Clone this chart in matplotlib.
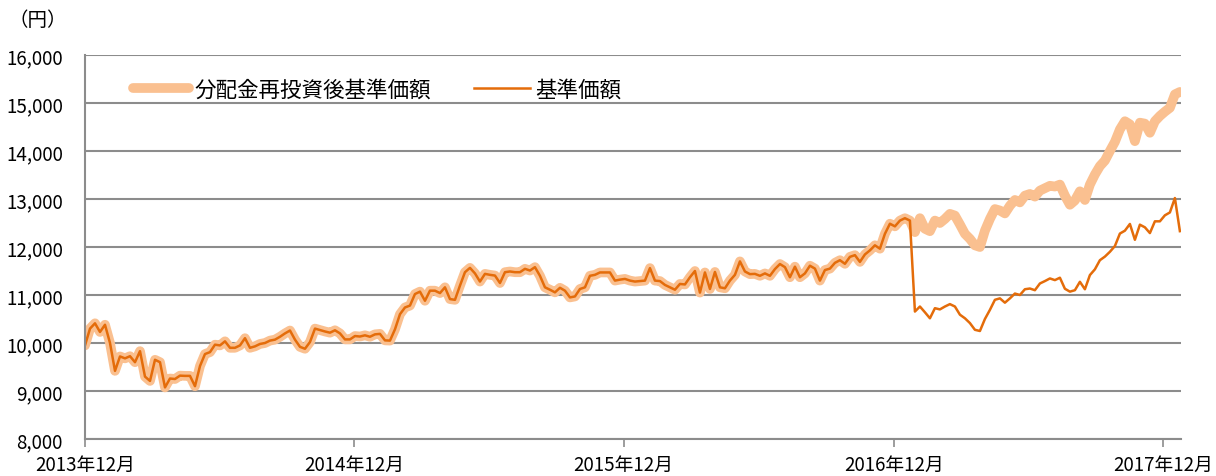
import matplotlib
matplotlib.use("Agg")
import matplotlib.pyplot as plt
import numpy as np
import pandas as pd
from matplotlib.ticker import FuncFormatter

plt.rcParams["font.family"] = ["Noto Sans CJK JP", "DejaVu Sans"]

# values, roughly one point per week
START = "2013-12-01"
END = "2017-12-24"

# both series are identical up to the January 2017 distribution
nav_before = [
    9950, 10300, 10410, 10230, 10380, 10000, 9420, 9720, 9680, 9725,
    9600, 9830, 9300, 9210, 9650, 9600, 9075, 9260, 9250, 9320,
    9315, 9315, 9100, 9520, 9770, 9810, 9965, 9950, 10035, 9900,
    9900, 9950, 10100, 9900, 9930, 9980, 10000, 10050, 10070, 10130,
    10200, 10260, 10070, 9920, 9880, 10020, 10300, 10270, 10240, 10215,
    10265, 10200, 10075, 10075, 10145, 10135, 10160, 10130, 10180, 10190,
    10055, 10050, 10285, 10600, 10740, 10780, 11020, 11070, 10880, 11090,
    11090, 11040, 11160, 10915, 10900, 11195, 11475, 11565, 11450, 11280,
    11440, 11420, 11405, 11250, 11475, 11490, 11475, 11475, 11545, 11510,
    11580, 11400, 11160, 11110, 11055, 11150, 11090, 10950, 10970, 11125,
    11160, 11400, 11420, 11470, 11470, 11470, 11300, 11320, 11335, 11300,
    11280, 11290, 11300, 11560, 11300, 11290, 11210, 11160, 11110, 11230,
    11220, 11370, 11500, 11050, 11470, 11125, 11480, 11160, 11140, 11300,
    11420, 11700, 11490, 11435, 11440, 11400, 11450, 11400, 11540, 11645,
    11580, 11370, 11590, 11370, 11450, 11610, 11550, 11300, 11520, 11550,
    11670, 11725, 11650, 11795, 11830, 11690, 11845, 11930, 12035, 11965,
    12275, 12485, 12430, 12550, 12600, 12550,
]

nav_after = [
    10655, 10760, 10640, 10515, 10725, 10700, 10760, 10810, 10760, 10590,
    10515, 10415, 10275, 10250, 10500, 10690, 10900, 10930, 10840, 10930,
    11030, 11000, 11120, 11135, 11100, 11240, 11290, 11345, 11310, 11360,
    11130, 11070, 11100, 11275, 11120, 11415, 11535, 11725, 11800, 11900,
    12020, 12280, 12340, 12480, 12150, 12465, 12410, 12290, 12535, 12535,
    12660, 12720, 13020, 12330,
]

reinvest_after = [
    12310, 12600, 12380, 12330, 12550, 12500, 12585, 12690, 12655, 12470,
    12275, 12170, 12035, 12000, 12340, 12585, 12790, 12760, 12700, 12860,
    12980, 12930, 13070, 13105, 13050, 13175, 13225, 13275, 13260, 13300,
    13070, 12880, 12970, 13160, 12980, 13300, 13510, 13685, 13800, 14000,
    14190, 14450, 14620, 14555, 14205, 14590, 14570, 14380, 14620, 14730,
    14820, 14900, 15180, 15230,
]

labels = ["分配金再投資後基準価額", "基準価額"]
year_ticks = ["2013-12-01", "2014-12-01", "2015-12-01", "2016-12-01", "2017-12-01"]
year_labels = ["2013年12月", "2014年12月", "2015年12月", "2016年12月", "2017年12月"]

LIGHT = "#FAC090"
DARK = "#E46C0A"
GRID = "#8C8C8C"

nav = nav_before + nav_after
reinvest = nav_before + reinvest_after
dates = pd.date_range(START, END, periods=len(nav))

fig = plt.figure(figsize=(12.16, 4.77), dpi=100)
ax = fig.add_axes([85 / 1216, 1 - 440 / 477, 1096 / 1216, 384 / 477])

ax.plot(dates, reinvest, color=LIGHT, linewidth=7,
        solid_capstyle="round", solid_joinstyle="round", label=labels[0])
ax.plot(dates, nav, color=DARK, linewidth=1.8,
        solid_joinstyle="round", label=labels[1])

ax.set_ylim(8000, 16000)
ax.set_yticks(np.arange(8000, 16001, 1000))
ax.yaxis.set_major_formatter(FuncFormatter(lambda v, _: f"{v:,.0f}"))
ax.set_xlim(pd.Timestamp(START), pd.Timestamp("2017-12-25 12:00"))
ax.set_xticks(pd.to_datetime(year_ticks))
ax.set_xticklabels(year_labels)

ax.grid(axis="y", color=GRID, linewidth=1.5)
ax.set_axisbelow(True)
for side in ("top", "right"):
    ax.spines[side].set_visible(False)
for side in ("left", "bottom"):
    ax.spines[side].set_color(GRID)
    ax.spines[side].set_linewidth(1.5)

ax.tick_params(axis="y", length=0, pad=16, labelsize=13.5, colors="black")
ax.tick_params(axis="x", length=6, width=1.2, color=GRID, pad=5,
               labelsize=13.5, labelcolor="black")

ax.legend(loc="center left", bbox_to_anchor=(0.044, 0.911), ncol=2,
          frameon=False, fontsize=15.5, borderpad=0, borderaxespad=0,
          handlelength=2.6, handletextpad=0.25, columnspacing=2.0)

fig.text(8 / 1216, 1 - 20 / 477, "（円）", fontsize=14, va="center", ha="left")

fig.savefig("out.png", dpi=100)
